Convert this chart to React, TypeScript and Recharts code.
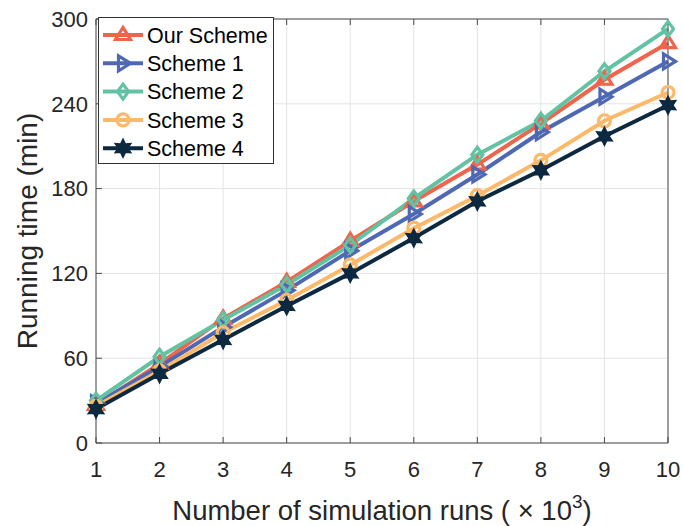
import React from 'react';
import { LineChart, Line, XAxis, YAxis, CartesianGrid } from 'recharts';

const runs = [1, 2, 3, 4, 5, 6, 7, 8, 9, 10];
const ourScheme = [27, 56, 88, 114, 143, 171, 197, 226, 257, 283];
const scheme1 = [28, 54, 82, 108, 136, 162, 190, 220, 245, 270];
const scheme2 = [30, 61, 87, 112, 140, 173, 204, 228, 263, 293];
const scheme3 = [26, 51, 78, 101, 126, 152, 175, 200, 228, 248];
const scheme4 = [24, 49, 73, 97, 120, 145, 171, 193, 217, 239];
const xTicks = [1, 2, 3, 4, 5, 6, 7, 8, 9, 10];
const yTicks = [0, 60, 120, 180, 240, 300];

const seriesNames = ['Our Scheme', 'Scheme 1', 'Scheme 2', 'Scheme 3', 'Scheme 4'];
const seriesKeys = ['our', 's1', 's2', 's3', 's4'];
const seriesColors = ['#EE644C', '#4F68B3', '#62C3A3', '#FDB96A', '#0C2940'];
const seriesShapes = ['triUp', 'triRight', 'diamond', 'circle', 'hexagram'];

const data = runs.map((r, i) => ({
  x: r,
  our: ourScheme[i],
  s1: scheme1[i],
  s2: scheme2[i],
  s3: scheme3[i],
  s4: scheme4[i],
}));

const FONT = '"Liberation Sans", Arial, Helvetica, sans-serif';
const AXIS = '#4a4a4a';

function Marker({ shape, cx, cy, color }: { shape: string; cx: number; cy: number; color: string }) {
  const sw = 3.2;
  if (shape === 'triUp') {
    const r = 7.5;
    const pts = `${cx},${cy - r} ${cx - r},${cy + r * 0.6} ${cx + r},${cy + r * 0.6}`;
    return <polygon points={pts} fill="none" stroke={color} strokeWidth={sw} strokeLinejoin="miter" />;
  }
  if (shape === 'triRight') {
    const r = 7.5;
    const pts = `${cx + r},${cy} ${cx - r * 0.6},${cy - r} ${cx - r * 0.6},${cy + r}`;
    return <polygon points={pts} fill="none" stroke={color} strokeWidth={sw} strokeLinejoin="miter" />;
  }
  if (shape === 'diamond') {
    const r = 7.5;
    const w = 5.5;
    const pts = `${cx},${cy - r} ${cx + w},${cy} ${cx},${cy + r} ${cx - w},${cy}`;
    return <polygon points={pts} fill="none" stroke={color} strokeWidth={sw} strokeLinejoin="miter" />;
  }
  if (shape === 'circle') {
    return <circle cx={cx} cy={cy} r={6} fill="none" stroke={color} strokeWidth={sw} />;
  }
  // hexagram
  const R = 9;
  const rIn = 4.8;
  const pts: string[] = [];
  for (let k = 0; k < 12; k++) {
    const ang = (Math.PI / 6) * k - Math.PI / 2;
    const rad = k % 2 === 0 ? R : rIn;
    pts.push(`${cx + rad * Math.cos(ang)},${cy + rad * Math.sin(ang)}`);
  }
  return <polygon points={pts.join(' ')} fill={color} stroke={color} strokeWidth={1.5} strokeLinejoin="miter" />;
}

function makeDot(shape: string, color: string) {
  return (props: any) => {
    const { cx, cy, index } = props;
    if (cx == null || cy == null) return <g key={`d-${index}`} />;
    return (
      <g key={`d-${shape}-${index}`}>
        <Marker shape={shape} cx={cx} cy={cy} color={color} />
      </g>
    );
  };
}

function XLabel(props: any) {
  const vb = props.viewBox || { x: 96, y: 443, width: 572 };
  const cx = vb.x + vb.width / 2;
  return (
    <text x={cx} y={vb.y + 77} textAnchor="middle" fontFamily={FONT} fontSize={27.5} fill="#262626">
      <tspan>Number of simulation runs ( × 10</tspan>
      <tspan fontSize={19} dy={-12}>3</tspan>
      <tspan dy={12}>)</tspan>
    </text>
  );
}

function YLabel(props: any) {
  const vb = props.viewBox || { x: 0, y: 19, height: 424 };
  const cy = vb.y + vb.height / 2;
  const x = 37;
  return (
    <text
      x={x}
      y={cy}
      transform={`rotate(-90 ${x} ${cy})`}
      textAnchor="middle"
      fontFamily={FONT}
      fontSize={28}
      fill="#262626"
    >
      Running time (min)
    </text>
  );
}

function LegendBox() {
  return (
    <div
      style={{
        position: 'absolute',
        left: 98,
        top: 17,
        width: 176,
        height: 147,
        background: '#fff',
        border: '1px solid #333',
        boxSizing: 'border-box',
        fontFamily: FONT,
      }}
    >
      <svg width={176} height={147} style={{ position: 'absolute', left: -1, top: -1 }}>
        {seriesNames.map((name, i) => {
          const y = 18 + i * 28.3;
          return (
            <g key={name}>
              <line x1={5} x2={45} y1={y} y2={y} stroke={seriesColors[i]} strokeWidth={4} />
              <Marker shape={seriesShapes[i]} cx={25} cy={y} color={seriesColors[i]} />
              <text x={49} y={y + 7.7} fontSize={21.5} fill="#000" fontFamily={FONT}>
                {name}
              </text>
            </g>
          );
        })}
      </svg>
    </div>
  );
}

export default function App() {
  return (
    <div style={{ position: 'absolute', left: 0, top: 0, width: 683, height: 526, background: '#fff' }}>
      <LineChart width={683} height={526} data={data} margin={{ top: 0, right: 0, left: 0, bottom: 0 }}>
        <CartesianGrid stroke="#e3e3e3" strokeWidth={1} />
        <XAxis
          dataKey="x"
          type="number"
          domain={[1, 10]}
          ticks={xTicks}
          height={83}
          stroke={AXIS}
          tickSize={-6}
          tickMargin={24}
          tick={{ fontSize: 22, fill: '#262626', fontFamily: FONT }}
          label={<XLabel />}
        />
        <XAxis
          xAxisId="top"
          orientation="top"
          dataKey="x"
          type="number"
          domain={[1, 10]}
          ticks={xTicks}
          height={19}
          stroke={AXIS}
          tickSize={-6}
          tickFormatter={() => ''}
        />
        <YAxis
          type="number"
          domain={[0, 300]}
          ticks={yTicks}
          width={96}
          stroke={AXIS}
          tickSize={-6}
          tickMargin={14}
          tick={{ fontSize: 22, fill: '#262626', fontFamily: FONT }}
          label={<YLabel />}
        />
        <YAxis
          yAxisId="right"
          orientation="right"
          type="number"
          domain={[0, 300]}
          ticks={yTicks}
          width={15}
          stroke={AXIS}
          tickSize={-6}
          tickFormatter={() => ''}
        />
        {seriesKeys.map((k, i) => (
          <Line
            key={k}
            type="linear"
            dataKey={k}
            name={seriesNames[i]}
            stroke={seriesColors[i]}
            strokeWidth={4}
            dot={makeDot(seriesShapes[i], seriesColors[i])}
            activeDot={false}
            isAnimationActive={false}
          />
        ))}
      </LineChart>
      <LegendBox />
    </div>
  );
}
